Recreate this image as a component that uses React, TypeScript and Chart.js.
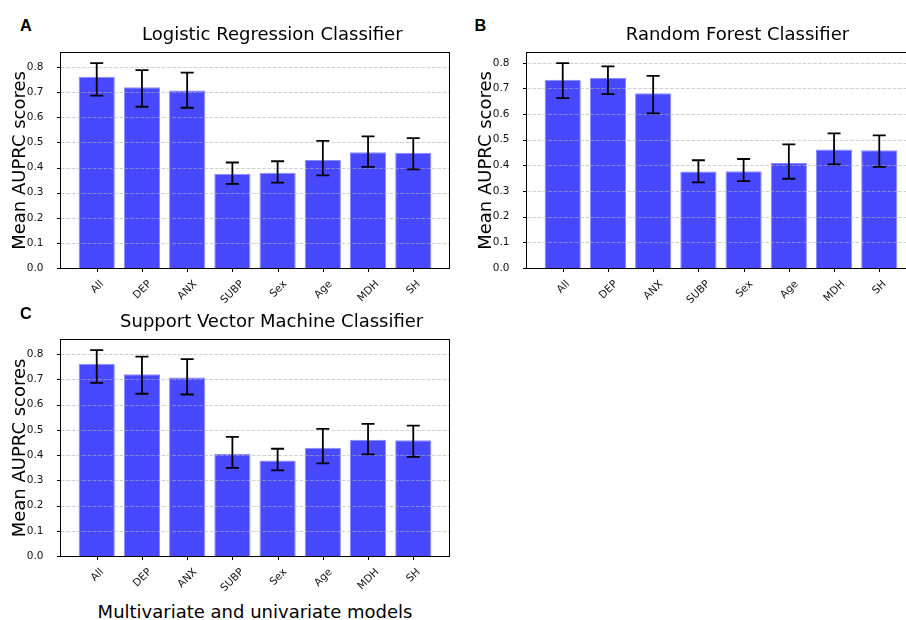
import React, { useEffect, useRef } from "react";
import { Chart, registerables } from "chart.js";

Chart.register(...registerables);

// ---------- data ----------
const categories = ["All", "DEP", "ANX", "SUBP", "Sex", "Age", "MDH", "SH"];
const yTickValues = [0, 0.1, 0.2, 0.3, 0.4, 0.5, 0.6, 0.7, 0.8];

const lrMeans = [0.761, 0.72, 0.707, 0.375, 0.379, 0.43, 0.461, 0.459];
const lrLow = [0.686, 0.642, 0.638, 0.335, 0.34, 0.369, 0.403, 0.393];
const lrHigh = [0.816, 0.788, 0.778, 0.42, 0.425, 0.506, 0.524, 0.517];

const rfMeans = [0.734, 0.741, 0.681, 0.376, 0.377, 0.409, 0.462, 0.459];
const rfLow = [0.662, 0.678, 0.603, 0.334, 0.339, 0.348, 0.404, 0.394];
const rfHigh = [0.799, 0.786, 0.749, 0.42, 0.425, 0.482, 0.525, 0.517];

const svmMeans = [0.762, 0.72, 0.707, 0.405, 0.378, 0.429, 0.461, 0.459];
const svmLow = [0.686, 0.643, 0.64, 0.349, 0.339, 0.367, 0.403, 0.393];
const svmHigh = [0.816, 0.79, 0.78, 0.472, 0.425, 0.504, 0.524, 0.517];

// ---------- styles ----------
const FONT = "'DejaVu Sans', 'Noto Sans', sans-serif";
const BAR_COLOR = "#4848ff";
const BAR_EDGE = "#8a8aff";
const GRID_COLOR = "rgba(176,176,176,0.6)";
const TEXT_COLOR = "#111";
const TICK_FONT_SIZE = 10.5;
const BAR_WIDTH = 0.8;

type PanelProps = {
  means: number[];
  low: number[];
  high: number[];
  left: number;
  top: number;
  width: number;
  height: number;
};

function Panel({ means, low, high, left, top, width, height }: PanelProps) {
  const ref = useRef<HTMLCanvasElement>(null);

  useEffect(() => {
    if (!ref.current) return;
    const n = categories.length;
    const yMax = Math.max(...high) * 1.05;
    const span = n - 1 + BAR_WIDTH;
    const xMin = -BAR_WIDTH / 2 - 0.05 * span;
    const xMax = n - 1 + BAR_WIDTH / 2 + 0.05 * span;

    const decor = {
      id: "panelDecor",
      afterDatasetsDraw(chart: any) {
        const { ctx, chartArea } = chart;
        const ys = chart.scales.y;
        ctx.save();
        ctx.strokeStyle = GRID_COLOR;
        ctx.lineWidth = 1;
        ctx.setLineDash([3.7, 1.6]);
        yTickValues.forEach((v) => {
          if (v === 0) return;
          const y = Math.round(ys.getPixelForValue(v)) + 0.5;
          ctx.beginPath();
          ctx.moveTo(chartArea.left, y);
          ctx.lineTo(chartArea.right, y);
          ctx.stroke();
        });
        ctx.restore();
      },
      afterDraw(chart: any) {
        const { ctx, chartArea } = chart;
        const xs = chart.scales.x;
        const ys = chart.scales.y;
        ctx.save();
        // error bars
        ctx.strokeStyle = "#000";
        ctx.lineWidth = 1.8;
        ctx.setLineDash([]);
        const cap = 6.5;
        categories.forEach((_, i) => {
          const x = xs.getPixelForValue(i);
          const y1 = ys.getPixelForValue(low[i]);
          const y2 = ys.getPixelForValue(high[i]);
          ctx.beginPath();
          ctx.moveTo(x, y1);
          ctx.lineTo(x, y2);
          ctx.moveTo(x - cap, y1);
          ctx.lineTo(x + cap, y1);
          ctx.moveTo(x - cap, y2);
          ctx.lineTo(x + cap, y2);
          ctx.stroke();
        });
        // frame
        ctx.lineWidth = 1;
        const l = Math.round(chartArea.left) - 0.5;
        const t = Math.round(chartArea.top) - 0.5;
        const r = Math.round(chartArea.right) + 0.5;
        const b = Math.round(chartArea.bottom) + 0.5;
        ctx.strokeRect(l, t, r - l, b - t);
        // y tick marks
        yTickValues.forEach((v) => {
          const y = Math.round(ys.getPixelForValue(v)) + 0.5;
          ctx.beginPath();
          ctx.moveTo(l - 3.5, y);
          ctx.lineTo(l, y);
          ctx.stroke();
        });
        // x tick marks and labels
        ctx.font = `${TICK_FONT_SIZE}px ${FONT}`;
        ctx.fillStyle = TEXT_COLOR;
        ctx.textAlign = "center";
        ctx.textBaseline = "middle";
        categories.forEach((label, i) => {
          const x = Math.round(xs.getPixelForValue(i)) + 0.5;
          ctx.beginPath();
          ctx.moveTo(x, b);
          ctx.lineTo(x, b + 3.5);
          ctx.stroke();
          const w = ctx.measureText(label).width;
          const cy = b + 10 + ((w + 11) * Math.SQRT1_2) / 2;
          ctx.save();
          ctx.translate(x, cy);
          ctx.rotate(-Math.PI / 4);
          ctx.fillText(label, 0, 0);
          ctx.restore();
        });
        ctx.restore();
      },
    };

    const chart = new Chart(ref.current, {
      type: "bar",
      data: {
        datasets: [
          {
            data: means.map((v, i) => ({ x: i, y: v })),
            backgroundColor: BAR_COLOR,
            borderColor: BAR_EDGE,
            borderWidth: 1,
            categoryPercentage: 1,
            barPercentage: BAR_WIDTH,
          } as any,
        ],
      },
      options: {
        animation: false,
        responsive: true,
        maintainAspectRatio: false,
        layout: { padding: { top: 10, right: 10, left: 0, bottom: 0 } },
        plugins: {
          legend: { display: false },
          tooltip: { enabled: false },
          title: { display: false },
        },
        scales: {
          x: {
            type: "linear",
            min: xMin,
            max: xMax,
            offset: false,
            grid: { display: false },
            border: { display: false },
            ticks: { display: false },
            afterBuildTicks: (s: any) => {
              s.ticks = categories.map((_, i) => ({ value: i }));
            },
            afterFit: (s: any) => {
              s.height = 40;
            },
          },
          y: {
            type: "linear",
            min: 0,
            max: yMax,
            grid: { display: false },
            border: { display: false },
            afterBuildTicks: (s: any) => {
              s.ticks = yTickValues.map((v) => ({ value: v }));
            },
            ticks: {
              font: { family: FONT, size: TICK_FONT_SIZE },
              color: TEXT_COLOR,
              padding: 9.5,
              callback: (v: any) => Number(v).toFixed(1),
            },
            title: {
              display: true,
              text: "Mean AUPRC scores",
              font: { family: FONT, size: 18 },
              color: "#000",
              padding: { top: 10, bottom: 0 },
            },
            afterFit: (s: any) => {
              s.width = 61;
            },
          },
        },
      } as any,
      plugins: [decor],
    });
    return () => chart.destroy();
  }, [means, low, high]);

  return (
    <div style={{ position: "absolute", left, top, width, height }}>
      <canvas ref={ref} />
    </div>
  );
}

function Label({
  text,
  center,
  left,
  top,
  size,
  bold,
  family,
}: {
  text: string;
  center?: number;
  left?: number;
  top: number;
  size: number;
  bold?: boolean;
  family: string;
}) {
  const style: React.CSSProperties = {
    position: "absolute",
    top,
    fontFamily: family,
    fontSize: size,
    lineHeight: `${size}px`,
    fontWeight: bold ? "bold" : "normal",
    color: "#000",
    whiteSpace: "nowrap",
  };
  if (center !== undefined) {
    style.left = center - 250;
    style.width = 500;
    style.textAlign = "center";
  } else {
    style.left = left;
  }
  return <div style={style}>{text}</div>;
}

export default function App() {
  const LETTER_FONT = "'Liberation Sans', Arial, sans-serif";
  return (
    <div
      style={{
        position: "fixed",
        left: 0,
        top: 0,
        width: 906,
        height: 620,
        overflow: "hidden",
        background: "#fff",
      }}
    >
      <Panel means={lrMeans} low={lrLow} high={lrHigh} left={0} top={37} width={459} height={271} />
      <Panel means={rfMeans} low={rfLow} high={rfHigh} left={466} top={37} width={459} height={271} />
      <Panel means={svmMeans} low={svmLow} high={svmHigh} left={0} top={324} width={459} height={272} />

      <Label text="A" left={20} top={16.5} size={16.3} bold family={LETTER_FONT} />
      <Label text="B" left={474.5} top={16.5} size={16.3} bold family={LETTER_FONT} />
      <Label text="C" left={20} top={304.8} size={16.3} bold family={LETTER_FONT} />

      <Label text="Logistic Regression Classifier" center={272.3} top={24.8} size={18} family={FONT} />
      <Label text="Random Forest Classifier" center={737.5} top={24.8} size={18} family={FONT} />
      <Label text="Support Vector Machine Classifier" center={271.7} top={312.1} size={18} family={FONT} />
      <Label text="Multivariate and univariate models" center={255} top={603.3} size={18} family={FONT} />
    </div>
  );
}
